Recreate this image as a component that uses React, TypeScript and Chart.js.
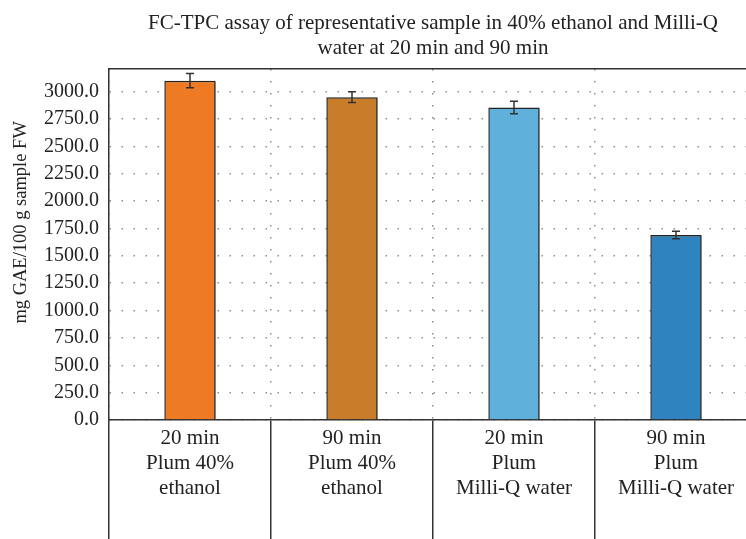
import React, { useEffect, useRef } from "react";
import { Chart, registerables } from "chart.js";

Chart.register(...registerables);

const categories: string[][] = [
  ["20 min", "Plum 40%", "ethanol"],
  ["90 min", "Plum 40%", "ethanol"],
  ["20 min", "Plum", "Milli-Q water"],
  ["90 min", "Plum", "Milli-Q water"],
];
const values = [3100, 2950, 2855, 1690];
const errors = [65, 50, 58, 35];
const barColors = ["#EE7B23", "#C97C29", "#5FB1DC", "#2F84BF"];
const yTickValues = [0, 250, 500, 750, 1000, 1250, 1500, 1750, 2000, 2250, 2500, 2750, 3000];
const titleLines = [
  "FC-TPC assay of representative sample in 40% ethanol and Milli-Q",
  "water at 20 min and 90 min",
];
const yAxisTitle = "mg GAE/100 g sample FW";

const FONT = "'Liberation Serif', 'Times New Roman', serif";

const errorBarPlugin = {
  id: "errorBars",
  afterDatasetsDraw(chart: any) {
    const ctx = chart.ctx;
    const meta = chart.getDatasetMeta(0);
    const yScale = chart.scales.y;
    ctx.save();
    ctx.strokeStyle = "#333";
    ctx.lineWidth = 1.5;
    meta.data.forEach((bar: any, i: number) => {
      const x = bar.x;
      const yTop = yScale.getPixelForValue(values[i] + errors[i]);
      const yBot = yScale.getPixelForValue(values[i] - errors[i]);
      const cap = 4;
      ctx.beginPath();
      ctx.moveTo(x, yTop);
      ctx.lineTo(x, yBot);
      ctx.moveTo(x - cap, yTop);
      ctx.lineTo(x + cap, yTop);
      ctx.moveTo(x - cap, yBot);
      ctx.lineTo(x + cap, yBot);
      ctx.stroke();
    });
    ctx.restore();
  },
};

const shadowPlugin = {
  id: "barShadow",
  beforeDatasetsDraw(chart: any) {
    const ctx = chart.ctx;
    ctx.save();
    ctx.shadowColor = "rgba(0,0,0,0.25)";
    ctx.shadowOffsetX = 2;
    ctx.shadowOffsetY = 1;
    ctx.shadowBlur = 1;
  },
  afterDatasetsDraw(chart: any) {
    chart.ctx.restore();
  },
};

const yTitlePlugin = {
  id: "yTitle",
  afterDraw(chart: any) {
    const ctx = chart.ctx;
    const area = chart.chartArea;
    const cy = area.top + (area.bottom - area.top) * 0.437;
    ctx.save();
    ctx.translate(21, cy);
    ctx.rotate(-Math.PI / 2);
    ctx.font = `18.5px ${FONT}`;
    ctx.fillStyle = "#222";
    ctx.textAlign = "center";
    ctx.textBaseline = "middle";
    ctx.fillText(yAxisTitle, 0, 0);
    ctx.restore();
  },
};

export default function App() {
  const ref = useRef<HTMLCanvasElement | null>(null);
  useEffect(() => {
    if (!ref.current) return;
    const chart = new Chart(ref.current, {
      type: "bar",
      data: {
        labels: categories,
        datasets: [
          {
            data: values,
            backgroundColor: barColors,
            borderColor: "#222",
            borderWidth: 1.5,
            barPercentage: 0.317,
            categoryPercentage: 1,
          },
        ],
      },
      options: {
        animation: false,
        responsive: false,
        maintainAspectRatio: false,
        layout: { padding: 0 },
        plugins: {
          legend: { display: false },
          tooltip: { enabled: false },
          title: {
            display: true,
            text: titleLines,
            fullSize: false,
            color: "#222",
            font: { family: FONT, size: 21, weight: "normal", lineHeight: 1.2 },
            padding: { top: 11, bottom: 7.6 },
          },
        },
        scales: {
          x: {
            type: "category",
            position: "bottom",
            offset: true,
            grid: {
              display: true,
              offset: true,
              drawOnChartArea: true,
              drawTicks: true,
              tickLength: 125,
              color: "rgba(0,0,0,0.45)",
              lineWidth: 1.5,
              tickColor: "#333",
              tickWidth: 1.5,
              tickBorderDash: [],
            },
            border: { display: true, color: "#333", width: 1.5, dash: [1.5, 10.5] },
            ticks: {
              color: "#222",
              font: { family: FONT, size: 21, lineHeight: 1.2 },
              padding: -119.6,
              maxRotation: 0,
              autoSkip: false,
            },
            afterFit(scale: any) {
              scale.height = 119;
            },
          },
          x2: {
            type: "category",
            position: "top",
            grid: { display: false },
            ticks: { display: false },
            border: { display: true, color: "#333", width: 1.5 },
            afterFit(scale: any) {
              scale.height = 0;
            },
          },
          y: {
            type: "linear",
            min: 0,
            max: 3207,
            grid: {
              display: true,
              drawTicks: false,
              color: "rgba(0,0,0,0.45)",
              lineWidth: 1.5,
            },
            border: { display: true, color: "#333", width: 1.5, dash: [1.5, 10.5] },
            ticks: {
              padding: 10,
              color: "#222",
              font: { family: FONT, size: 20 },
              callback: (v: any) => Number(v).toFixed(1),
            },
            afterBuildTicks(scale: any) {
              scale.ticks = yTickValues.map((v) => ({ value: v }));
            },
            afterFit(scale: any) {
              scale.width = 109;
            },
          },
        },
      },
      plugins: [shadowPlugin, errorBarPlugin, yTitlePlugin],
    });
    return () => chart.destroy();
  }, []);
  return (
    <div
      style={{
        position: "absolute",
        left: 0,
        top: 0,
        width: 746,
        height: 539,
        overflow: "hidden",
        background: "#fff",
      }}
    >
      <canvas ref={ref} width={757} height={539} style={{ display: "block" }} />
    </div>
  );
}
